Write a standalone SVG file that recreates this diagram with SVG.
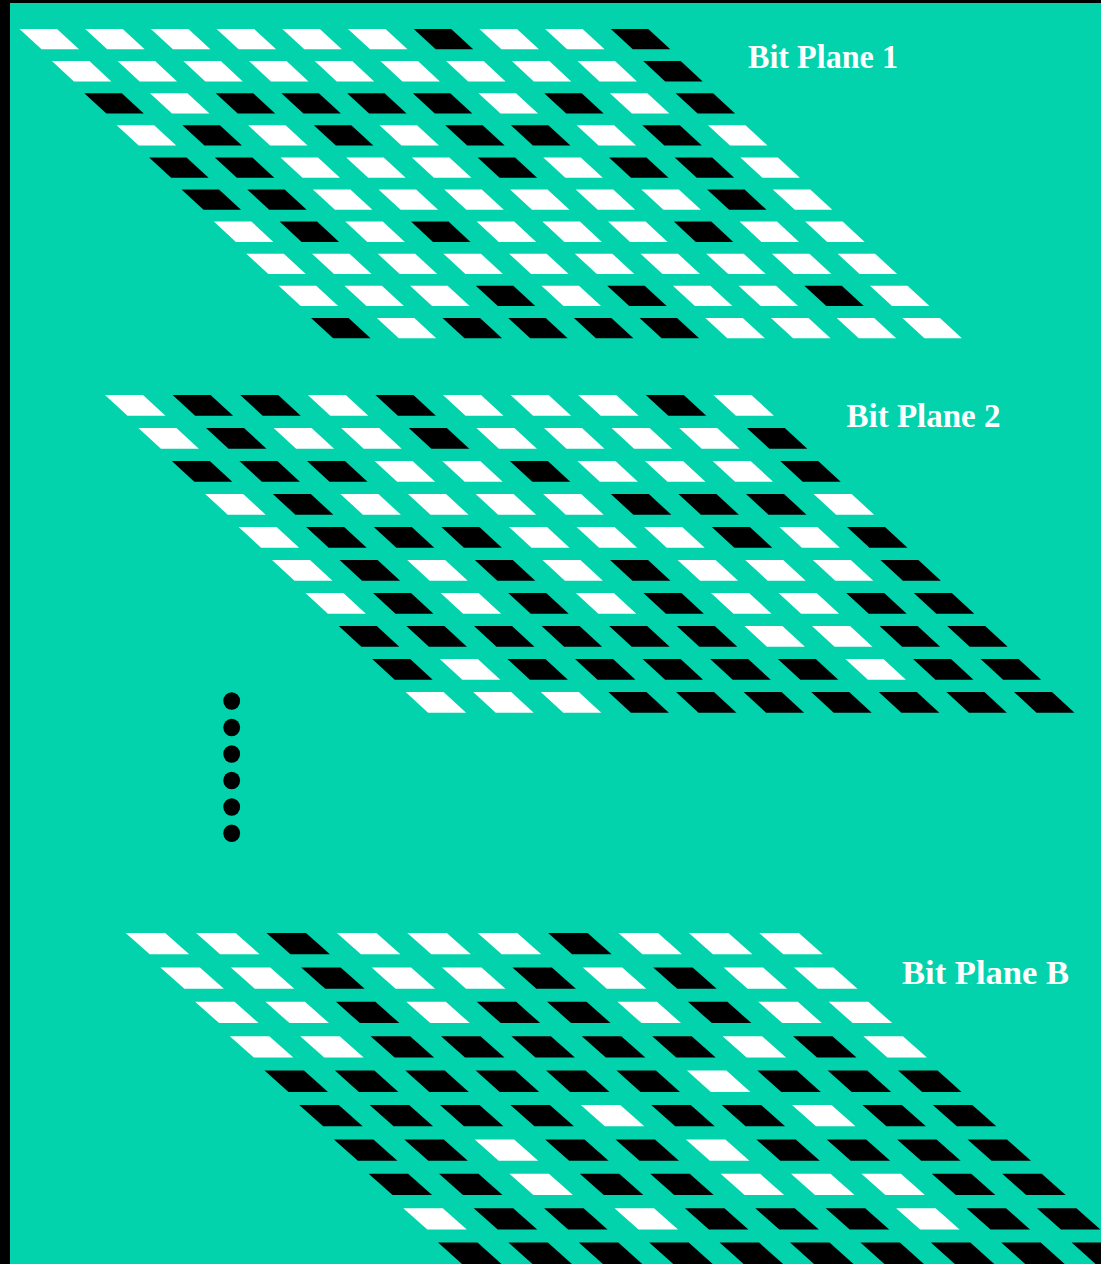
<svg xmlns="http://www.w3.org/2000/svg" xmlns:xlink="http://www.w3.org/1999/xlink" width="1101" height="1264" viewBox="0 0 1101 1264">
<style>
.w{fill:#ffffff}.b{fill:#000000}
.lbl{font-family:"Liberation Serif","Times New Roman",serif;font-weight:bold;font-size:34px;fill:#ffffff}
.dot{fill:#000000}
</style>
<defs>
<path id="p1" d="M0,0 h37.5 l22,20.3 h-37.5 z"/>
<path id="p2" d="M0,0 h38 l22.5,20.7 h-38 z"/>
<path id="p3" d="M0,0 h39.5 l24,21.3 h-39.5 z"/>
</defs>
<rect x="0" y="0" width="1101" height="1264" fill="#000000"/>
<rect x="10" y="3" width="1091" height="1261" fill="#02D3AD"/>

<g id="plane1">
<g transform="translate(19.5,29)"><use href="#p1" x="0" class="w"/><use href="#p1" x="65.7" class="w"/><use href="#p1" x="131.4" class="w"/><use href="#p1" x="197.1" class="w"/><use href="#p1" x="262.8" class="w"/><use href="#p1" x="328.5" class="w"/><use href="#p1" x="394.2" class="b"/><use href="#p1" x="459.9" class="w"/><use href="#p1" x="525.6" class="w"/><use href="#p1" x="591.3" class="b"/></g>
<g transform="translate(51.9,61.1)"><use href="#p1" x="0" class="w"/><use href="#p1" x="65.7" class="w"/><use href="#p1" x="131.4" class="w"/><use href="#p1" x="197.1" class="w"/><use href="#p1" x="262.8" class="w"/><use href="#p1" x="328.5" class="w"/><use href="#p1" x="394.2" class="w"/><use href="#p1" x="459.9" class="w"/><use href="#p1" x="525.6" class="w"/><use href="#p1" x="591.3" class="b"/></g>
<g transform="translate(84.3,93.2)"><use href="#p1" x="0" class="b"/><use href="#p1" x="65.7" class="w"/><use href="#p1" x="131.4" class="b"/><use href="#p1" x="197.1" class="b"/><use href="#p1" x="262.8" class="b"/><use href="#p1" x="328.5" class="b"/><use href="#p1" x="394.2" class="w"/><use href="#p1" x="459.9" class="b"/><use href="#p1" x="525.6" class="w"/><use href="#p1" x="591.3" class="b"/></g>
<g transform="translate(116.7,125.3)"><use href="#p1" x="0" class="w"/><use href="#p1" x="65.7" class="b"/><use href="#p1" x="131.4" class="w"/><use href="#p1" x="197.1" class="b"/><use href="#p1" x="262.8" class="w"/><use href="#p1" x="328.5" class="b"/><use href="#p1" x="394.2" class="b"/><use href="#p1" x="459.9" class="w"/><use href="#p1" x="525.6" class="b"/><use href="#p1" x="591.3" class="w"/></g>
<g transform="translate(149.1,157.4)"><use href="#p1" x="0" class="b"/><use href="#p1" x="65.7" class="b"/><use href="#p1" x="131.4" class="w"/><use href="#p1" x="197.1" class="w"/><use href="#p1" x="262.8" class="w"/><use href="#p1" x="328.5" class="b"/><use href="#p1" x="394.2" class="w"/><use href="#p1" x="459.9" class="b"/><use href="#p1" x="525.6" class="b"/><use href="#p1" x="591.3" class="w"/></g>
<g transform="translate(181.5,189.5)"><use href="#p1" x="0" class="b"/><use href="#p1" x="65.7" class="b"/><use href="#p1" x="131.4" class="w"/><use href="#p1" x="197.1" class="w"/><use href="#p1" x="262.8" class="w"/><use href="#p1" x="328.5" class="w"/><use href="#p1" x="394.2" class="w"/><use href="#p1" x="459.9" class="w"/><use href="#p1" x="525.6" class="b"/><use href="#p1" x="591.3" class="w"/></g>
<g transform="translate(213.9,221.6)"><use href="#p1" x="0" class="w"/><use href="#p1" x="65.7" class="b"/><use href="#p1" x="131.4" class="w"/><use href="#p1" x="197.1" class="b"/><use href="#p1" x="262.8" class="w"/><use href="#p1" x="328.5" class="w"/><use href="#p1" x="394.2" class="w"/><use href="#p1" x="459.9" class="b"/><use href="#p1" x="525.6" class="w"/><use href="#p1" x="591.3" class="w"/></g>
<g transform="translate(246.3,253.7)"><use href="#p1" x="0" class="w"/><use href="#p1" x="65.7" class="w"/><use href="#p1" x="131.4" class="w"/><use href="#p1" x="197.1" class="w"/><use href="#p1" x="262.8" class="w"/><use href="#p1" x="328.5" class="w"/><use href="#p1" x="394.2" class="w"/><use href="#p1" x="459.9" class="w"/><use href="#p1" x="525.6" class="w"/><use href="#p1" x="591.3" class="w"/></g>
<g transform="translate(278.7,285.8)"><use href="#p1" x="0" class="w"/><use href="#p1" x="65.7" class="w"/><use href="#p1" x="131.4" class="w"/><use href="#p1" x="197.1" class="b"/><use href="#p1" x="262.8" class="w"/><use href="#p1" x="328.5" class="b"/><use href="#p1" x="394.2" class="w"/><use href="#p1" x="459.9" class="w"/><use href="#p1" x="525.6" class="b"/><use href="#p1" x="591.3" class="w"/></g>
<g transform="translate(311.1,317.9)"><use href="#p1" x="0" class="b"/><use href="#p1" x="65.7" class="w"/><use href="#p1" x="131.4" class="b"/><use href="#p1" x="197.1" class="b"/><use href="#p1" x="262.8" class="b"/><use href="#p1" x="328.5" class="b"/><use href="#p1" x="394.2" class="w"/><use href="#p1" x="459.9" class="w"/><use href="#p1" x="525.6" class="w"/><use href="#p1" x="591.3" class="w"/></g>
<text class="lbl" x="748" y="67.5" textLength="150" lengthAdjust="spacingAndGlyphs">Bit Plane 1</text>
</g>

<g id="plane2">
<g transform="translate(105,395)"><use href="#p2" x="0" class="w"/><use href="#p2" x="67.6" class="b"/><use href="#p2" x="135.2" class="b"/><use href="#p2" x="202.8" class="w"/><use href="#p2" x="270.4" class="b"/><use href="#p2" x="338" class="w"/><use href="#p2" x="405.6" class="w"/><use href="#p2" x="473.2" class="w"/><use href="#p2" x="540.8" class="b"/><use href="#p2" x="608.4" class="w"/></g>
<g transform="translate(138.4,428)"><use href="#p2" x="0" class="w"/><use href="#p2" x="67.6" class="b"/><use href="#p2" x="135.2" class="w"/><use href="#p2" x="202.8" class="w"/><use href="#p2" x="270.4" class="b"/><use href="#p2" x="338" class="w"/><use href="#p2" x="405.6" class="w"/><use href="#p2" x="473.2" class="w"/><use href="#p2" x="540.8" class="w"/><use href="#p2" x="608.4" class="b"/></g>
<g transform="translate(171.8,461)"><use href="#p2" x="0" class="b"/><use href="#p2" x="67.6" class="b"/><use href="#p2" x="135.2" class="b"/><use href="#p2" x="202.8" class="w"/><use href="#p2" x="270.4" class="w"/><use href="#p2" x="338" class="b"/><use href="#p2" x="405.6" class="w"/><use href="#p2" x="473.2" class="w"/><use href="#p2" x="540.8" class="w"/><use href="#p2" x="608.4" class="b"/></g>
<g transform="translate(205.2,494)"><use href="#p2" x="0" class="w"/><use href="#p2" x="67.6" class="b"/><use href="#p2" x="135.2" class="w"/><use href="#p2" x="202.8" class="w"/><use href="#p2" x="270.4" class="w"/><use href="#p2" x="338" class="w"/><use href="#p2" x="405.6" class="b"/><use href="#p2" x="473.2" class="b"/><use href="#p2" x="540.8" class="b"/><use href="#p2" x="608.4" class="w"/></g>
<g transform="translate(238.6,527)"><use href="#p2" x="0" class="w"/><use href="#p2" x="67.6" class="b"/><use href="#p2" x="135.2" class="b"/><use href="#p2" x="202.8" class="b"/><use href="#p2" x="270.4" class="w"/><use href="#p2" x="338" class="w"/><use href="#p2" x="405.6" class="w"/><use href="#p2" x="473.2" class="b"/><use href="#p2" x="540.8" class="w"/><use href="#p2" x="608.4" class="b"/></g>
<g transform="translate(272,560)"><use href="#p2" x="0" class="w"/><use href="#p2" x="67.6" class="b"/><use href="#p2" x="135.2" class="w"/><use href="#p2" x="202.8" class="b"/><use href="#p2" x="270.4" class="w"/><use href="#p2" x="338" class="b"/><use href="#p2" x="405.6" class="w"/><use href="#p2" x="473.2" class="w"/><use href="#p2" x="540.8" class="w"/><use href="#p2" x="608.4" class="b"/></g>
<g transform="translate(305.4,593)"><use href="#p2" x="0" class="w"/><use href="#p2" x="67.6" class="b"/><use href="#p2" x="135.2" class="w"/><use href="#p2" x="202.8" class="b"/><use href="#p2" x="270.4" class="w"/><use href="#p2" x="338" class="b"/><use href="#p2" x="405.6" class="w"/><use href="#p2" x="473.2" class="w"/><use href="#p2" x="540.8" class="b"/><use href="#p2" x="608.4" class="b"/></g>
<g transform="translate(338.8,626)"><use href="#p2" x="0" class="b"/><use href="#p2" x="67.6" class="b"/><use href="#p2" x="135.2" class="b"/><use href="#p2" x="202.8" class="b"/><use href="#p2" x="270.4" class="b"/><use href="#p2" x="338" class="b"/><use href="#p2" x="405.6" class="w"/><use href="#p2" x="473.2" class="w"/><use href="#p2" x="540.8" class="b"/><use href="#p2" x="608.4" class="b"/></g>
<g transform="translate(372.2,659)"><use href="#p2" x="0" class="b"/><use href="#p2" x="67.6" class="w"/><use href="#p2" x="135.2" class="b"/><use href="#p2" x="202.8" class="b"/><use href="#p2" x="270.4" class="b"/><use href="#p2" x="338" class="b"/><use href="#p2" x="405.6" class="b"/><use href="#p2" x="473.2" class="w"/><use href="#p2" x="540.8" class="b"/><use href="#p2" x="608.4" class="b"/></g>
<g transform="translate(405.6,692)"><use href="#p2" x="0" class="w"/><use href="#p2" x="67.6" class="w"/><use href="#p2" x="135.2" class="w"/><use href="#p2" x="202.8" class="b"/><use href="#p2" x="270.4" class="b"/><use href="#p2" x="338" class="b"/><use href="#p2" x="405.6" class="b"/><use href="#p2" x="473.2" class="b"/><use href="#p2" x="540.8" class="b"/><use href="#p2" x="608.4" class="b"/></g>
<text class="lbl" x="846.5" y="426.5" textLength="154" lengthAdjust="spacingAndGlyphs">Bit Plane 2</text>
</g>

<g id="dots">
<ellipse class="dot" cx="231.7" cy="701" rx="8.4" ry="8.8"/>
<ellipse class="dot" cx="231.7" cy="727.5" rx="8.4" ry="8.8"/>
<ellipse class="dot" cx="231.7" cy="754" rx="8.4" ry="8.8"/>
<ellipse class="dot" cx="231.7" cy="780.5" rx="8.4" ry="8.8"/>
<ellipse class="dot" cx="231.7" cy="807" rx="8.4" ry="8.8"/>
<ellipse class="dot" cx="231.7" cy="833.3" rx="8.4" ry="8.8"/>
</g>

<g id="planeB">
<g transform="translate(125.7,933)"><use href="#p3" x="0" class="w"/><use href="#p3" x="70.4" class="w"/><use href="#p3" x="140.8" class="b"/><use href="#p3" x="211.2" class="w"/><use href="#p3" x="281.6" class="w"/><use href="#p3" x="352" class="w"/><use href="#p3" x="422.4" class="b"/><use href="#p3" x="492.8" class="w"/><use href="#p3" x="563.2" class="w"/><use href="#p3" x="633.6" class="w"/></g>
<g transform="translate(160.4,967.4)"><use href="#p3" x="0" class="w"/><use href="#p3" x="70.4" class="w"/><use href="#p3" x="140.8" class="b"/><use href="#p3" x="211.2" class="w"/><use href="#p3" x="281.6" class="w"/><use href="#p3" x="352" class="b"/><use href="#p3" x="422.4" class="w"/><use href="#p3" x="492.8" class="b"/><use href="#p3" x="563.2" class="w"/><use href="#p3" x="633.6" class="w"/></g>
<g transform="translate(195.1,1001.8)"><use href="#p3" x="0" class="w"/><use href="#p3" x="70.4" class="w"/><use href="#p3" x="140.8" class="b"/><use href="#p3" x="211.2" class="w"/><use href="#p3" x="281.6" class="b"/><use href="#p3" x="352" class="b"/><use href="#p3" x="422.4" class="w"/><use href="#p3" x="492.8" class="b"/><use href="#p3" x="563.2" class="w"/><use href="#p3" x="633.6" class="w"/></g>
<g transform="translate(229.8,1036.2)"><use href="#p3" x="0" class="w"/><use href="#p3" x="70.4" class="w"/><use href="#p3" x="140.8" class="b"/><use href="#p3" x="211.2" class="b"/><use href="#p3" x="281.6" class="b"/><use href="#p3" x="352" class="b"/><use href="#p3" x="422.4" class="b"/><use href="#p3" x="492.8" class="w"/><use href="#p3" x="563.2" class="b"/><use href="#p3" x="633.6" class="w"/></g>
<g transform="translate(264.5,1070.6)"><use href="#p3" x="0" class="b"/><use href="#p3" x="70.4" class="b"/><use href="#p3" x="140.8" class="b"/><use href="#p3" x="211.2" class="b"/><use href="#p3" x="281.6" class="b"/><use href="#p3" x="352" class="b"/><use href="#p3" x="422.4" class="w"/><use href="#p3" x="492.8" class="b"/><use href="#p3" x="563.2" class="b"/><use href="#p3" x="633.6" class="b"/></g>
<g transform="translate(299.2,1105)"><use href="#p3" x="0" class="b"/><use href="#p3" x="70.4" class="b"/><use href="#p3" x="140.8" class="b"/><use href="#p3" x="211.2" class="b"/><use href="#p3" x="281.6" class="w"/><use href="#p3" x="352" class="b"/><use href="#p3" x="422.4" class="b"/><use href="#p3" x="492.8" class="w"/><use href="#p3" x="563.2" class="b"/><use href="#p3" x="633.6" class="b"/></g>
<g transform="translate(333.9,1139.4)"><use href="#p3" x="0" class="b"/><use href="#p3" x="70.4" class="b"/><use href="#p3" x="140.8" class="w"/><use href="#p3" x="211.2" class="b"/><use href="#p3" x="281.6" class="b"/><use href="#p3" x="352" class="w"/><use href="#p3" x="422.4" class="b"/><use href="#p3" x="492.8" class="b"/><use href="#p3" x="563.2" class="b"/><use href="#p3" x="633.6" class="b"/></g>
<g transform="translate(368.6,1173.8)"><use href="#p3" x="0" class="b"/><use href="#p3" x="70.4" class="b"/><use href="#p3" x="140.8" class="w"/><use href="#p3" x="211.2" class="b"/><use href="#p3" x="281.6" class="b"/><use href="#p3" x="352" class="w"/><use href="#p3" x="422.4" class="w"/><use href="#p3" x="492.8" class="w"/><use href="#p3" x="563.2" class="b"/><use href="#p3" x="633.6" class="b"/></g>
<g transform="translate(403.3,1208.2)"><use href="#p3" x="0" class="w"/><use href="#p3" x="70.4" class="b"/><use href="#p3" x="140.8" class="b"/><use href="#p3" x="211.2" class="w"/><use href="#p3" x="281.6" class="b"/><use href="#p3" x="352" class="b"/><use href="#p3" x="422.4" class="b"/><use href="#p3" x="492.8" class="w"/><use href="#p3" x="563.2" class="b"/><use href="#p3" x="633.6" class="b"/></g>
<g transform="translate(438,1242.6)"><use href="#p3" x="0" class="b"/><use href="#p3" x="70.4" class="b"/><use href="#p3" x="140.8" class="b"/><use href="#p3" x="211.2" class="b"/><use href="#p3" x="281.6" class="b"/><use href="#p3" x="352" class="b"/><use href="#p3" x="422.4" class="b"/><use href="#p3" x="492.8" class="b"/><use href="#p3" x="563.2" class="b"/><use href="#p3" x="633.6" class="b"/></g>
<text class="lbl" x="902" y="984" textLength="167" lengthAdjust="spacingAndGlyphs">Bit Plane B</text>
</g>
</svg>
